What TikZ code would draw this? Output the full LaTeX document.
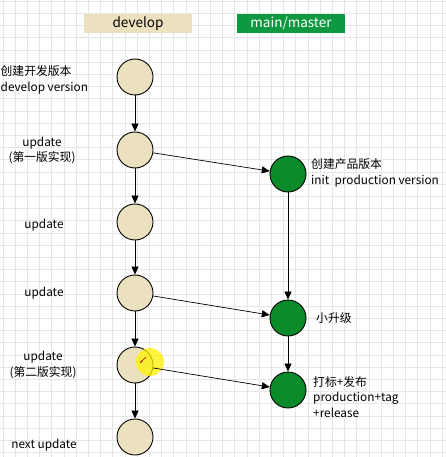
\documentclass[tikz,border=0pt]{standalone}
\usepackage{fontspec}
\setmainfont{Noto Sans CJK SC}
\usetikzlibrary{arrows.meta}
\definecolor{tan}{HTML}{EBE1BE}
\definecolor{gcirc}{HTML}{0B8A2A}
\definecolor{gbox}{HTML}{0E9940}
\definecolor{gridc}{HTML}{E6E6E6}
\begin{document}
\begin{tikzpicture}[x=1pt,y=-1pt,
  devc/.style={circle,draw=black,line width=0.9pt,fill=tan,minimum size=36pt,inner sep=0pt},
  mainc/.style={circle,draw=black,line width=0.9pt,fill=gcirc,minimum size=36pt,inner sep=0pt},
  lbl/.style={font=\fontsize{11.8}{15.5}\selectfont,align=center,inner sep=0pt},
  lbll/.style={font=\fontsize{11.8}{15.5}\selectfont,align=left,inner sep=0pt,anchor=west},
  arr/.style={-{Triangle[length=8pt,width=7pt]},line width=0.7pt},
  hdr/.style={minimum width=108pt,minimum height=19pt,inner sep=0pt,font=\fontsize{13.5}{15}\selectfont}]
\useasboundingbox (0,0) rectangle (446,457);
\fill[white] (0,0) rectangle (446,457);
\foreach \i in {0,...,36} {\draw[gridc,line width=0.6pt] (2.9+12.2*\i,0) -- (2.9+12.2*\i,457);}
\foreach \i in {0,...,37} {\draw[gridc,line width=0.6pt] (0,1.1+12.2*\i) -- (446,1.1+12.2*\i);}
% headers
\node[hdr,fill=tan] (hdev) at (138,23.5) {develop};
\node[hdr,fill=gbox,text=white] (hmain) at (291,23.5) {main/master};
% develop circles
\node[devc] (d1) at (135,77) {};
\node[devc] (d2) at (135,150) {};
\node[devc] (d3) at (135,222) {};
\node[devc] (d4) at (135,293) {};
\node[devc] (d5) at (135,365) {};
\node[devc] (d6) at (135,437) {};
% main circles
\node[mainc] (m1) at (288,174) {};
\node[mainc] (m2) at (288,318) {};
\node[mainc] (m3) at (288,390) {};
% cursor highlight
\fill[yellow,opacity=0.75] (150,362) circle (14);
\draw[red!70!black,line width=0.6pt,-{Stealth[length=3pt]}] (146,357) -- (140,363);
% arrows
\draw[arr] (d1) -- (d2);
\draw[arr] (d2) -- (d3);
\draw[arr] (d3) -- (d4);
\draw[arr] (d4) -- (d5);
\draw[arr] (d5) -- (d6);
\draw[arr] (m1) -- (m2);
\draw[arr] (m2) -- (m3);
\draw[arr] (d2) -- (m1);
\draw[arr] (d4) -- (m2);
\draw[arr] (d5) -- (m3);
% left labels
\node[lbll] (t1) at (0.5,80) {创建开发版本\\develop version};
\node[lbl] (t2) at (42,150.5) {update\\(第一版实现)};
\node[lbl] (t3) at (44,225) {update};
\node[lbl] (t4) at (44,293) {update};
\node[lbl] (t5) at (43,365) {update\\(第二版实现)};
\node[lbl] (t6) at (44,445) {next update};
% right labels
\node[lbll] (r1) at (311,173) {创建产品版本\\init\ \ production version};
\node[lbll] (r2) at (316,318) {小升级};
\node[lbll] (r3) at (313,397) {打标+发布\\production+tag\\+release};
\end{tikzpicture}
\end{document}
